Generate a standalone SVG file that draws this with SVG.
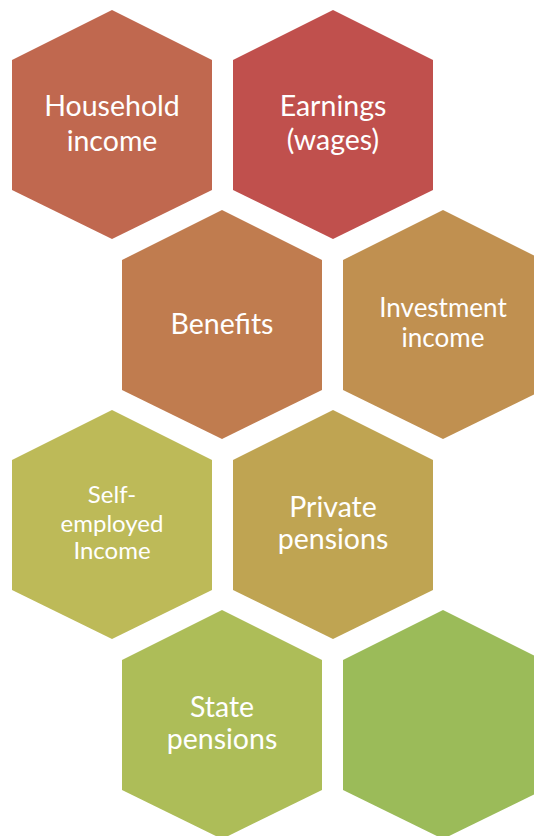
<svg xmlns="http://www.w3.org/2000/svg" width="534" height="836" viewBox="0 0 534 836">
<style>
text{font-family:Lato,"Open Sans",sans-serif;fill:#fff;text-anchor:middle}
.l{font-size:28.5px}
.m{font-size:26px}
.s{font-size:24px}
</style>
<defs>
<polygon id="hex" points="0,0 100,50 100,180 0,229 -100,180 -100,50"/>
</defs>
<rect width="534" height="836" fill="#fff"/>
<g id="connectors"/>
<g id="household"><use href="#hex" x="112" y="10" fill="#C0684F"/><text class="l" x="112" y="116">Household</text><text class="l" x="112" y="151">income</text></g>
<g id="earnings"><use href="#hex" x="333" y="10" fill="#C0504D"/><text class="l" x="333" y="116">Earnings</text><text class="l" x="333" y="150">(wages)</text></g>
<g id="benefits"><use href="#hex" x="222" y="210" fill="#C07C4F"/><text class="l" x="222" y="334">Benefits</text></g>
<g id="investment"><use href="#hex" x="443" y="210" fill="#C09050"/><text class="m" x="443" y="317">Investment</text><text class="m" x="443" y="347">income</text></g>
<g id="selfemployed"><use href="#hex" x="112" y="410" fill="#BDBA58"/><text class="s" x="112" y="503">Self-</text><text class="s" x="112" y="532">employed</text><text class="s" x="112" y="559">Income</text></g>
<g id="private"><use href="#hex" x="333" y="410" fill="#BFA452"/><text class="l" x="333" y="517">Private</text><text class="l" x="333" y="549">pensions</text></g>
<g id="state"><use href="#hex" x="222" y="610" fill="#ADBD58"/><text class="l" x="222" y="717">State</text><text class="l" x="222" y="749">pensions</text></g>
<g id="blank"><use href="#hex" x="443" y="610" fill="#9BBB59"/></g>
</svg>
